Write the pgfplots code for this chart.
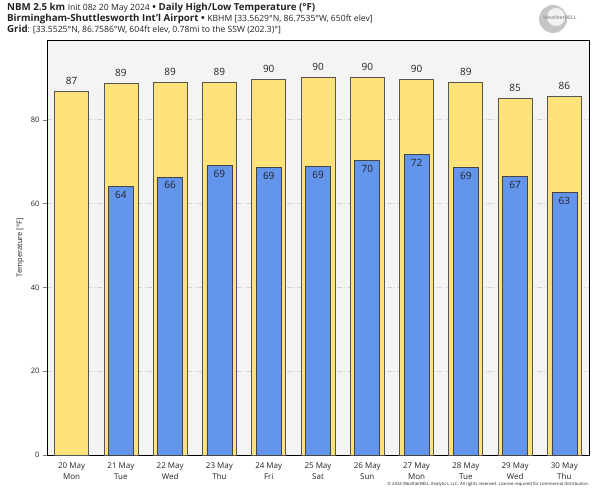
\documentclass[border=0pt]{standalone}
\usepackage{fontspec}
\setmainfont{Open Sans}
\usepackage{pgfplots}
\pgfplotsset{compat=1.18}
\usepackage{pgfplotstable}

\definecolor{hiyel}{HTML}{FFE27A}
\definecolor{loblu}{HTML}{6495ED}
\definecolor{plotbg}{HTML}{F4F4F4}
\definecolor{edge}{HTML}{555555}
\definecolor{txt}{HTML}{222222}

% daily highs, 20-30 May 2024
\pgfplotstableread{
x hi
0 86.7
1 88.6
2 89.0
3 89.0
4 89.6
5 90.2
6 90.2
7 89.6
8 88.9
9 85.1
10 85.6
}\highs

% daily lows, 21-30 May 2024
\pgfplotstableread{
x lo
1 64.0
2 66.3
3 69.0
4 68.6
5 68.8
6 70.2
7 71.7
8 68.6
9 66.5
10 62.6
}\lows

\newcommand{\hb}[1]{{\fontsize{9.7}{11}\selectfont\bfseries #1}}
\newcommand{\hr}[1]{{\fontsize{8.6}{10}\selectfont #1}}

\begin{document}
\begin{tikzpicture}
\useasboundingbox (0,0) rectangle (600pt,493pt);

% header
\node[anchor=west, inner sep=0, text=txt] at (7pt,485.5pt)
  {\hb{NBM 2.5 km} \hr{Init 08z 20 May 2024} \hb{• Daily High/Low Temperature (°F)}};
\node[anchor=west, inner sep=0, text=txt] at (7pt,474.5pt)
  {\hb{Birmingham-Shuttlesworth Int'l Airport •} \hr{KBHM [33.5629°N, 86.7535°W, 650ft elev]}};
\node[anchor=west, inner sep=0, text=txt] at (7pt,463.5pt)
  {\hb{Grid}\hr{: [33.5525°N, 86.7586°W, 604ft elev, 0.78mi to the SSW (202.3)°]}};

% logo
\fill[gray!45] (553pt,474pt) circle (14pt);
\fill[gray!10] (556pt,476pt) circle (9pt);
\node[font=\fontsize{5}{6}\selectfont\bfseries, text=gray!80] at (560pt,475pt) {WeatherBELL};

\begin{axis}[
    at={(47pt,38pt)}, anchor=south west,
    scale only axis,
    width=542pt, height=415pt,
    xmin=-0.5, xmax=10.5,
    ymin=0, ymax=99,
    axis background/.style={fill=plotbg},
    axis line style={black, line width=0.8pt},
    ytick={0,20,40,60,80},
    ytick pos=left,
    tick align=outside,
    major tick length=4pt,
    xtick={0,...,10},
    xticklabels={{20 May\\Mon},{21 May\\Tue},{22 May\\Wed},{23 May\\Thu},{24 May\\Fri},{25 May\\Sat},{26 May\\Sun},{27 May\\Mon},{28 May\\Tue},{29 May\\Wed},{30 May\\Thu}},
    xtick style={draw=none},
    xticklabel style={align=center, font=\fontsize{8}{11}\selectfont, text=txt},
    yticklabel style={font=\fontsize{7.5}{9}\selectfont, text=txt},
    /pgf/number format/assume math mode=true,
    ylabel={Temperature [°F]},
    ylabel style={font=\fontsize{7.5}{9}\selectfont, text=txt},
    ymajorgrids=true,
    major grid style={gray!35, dash pattern=on 5pt off 2pt on 1pt off 2pt, line width=0.5pt},
    nodes near coords={\pgfmathprintnumber[fixed,precision=0]{\pgfplotspointmeta}},
]
\addplot[ybar, bar width=34pt, bar shift=0pt, fill=hiyel, draw=edge, line width=0.7pt,
    every node near coord/.append style={font=\fontsize{10}{12}\selectfont, text=txt, anchor=south, yshift=3pt}]
    table[x=x, y=hi] {\highs};
\addplot[ybar, bar width=25pt, bar shift=0pt, fill=loblu, draw=edge!80!black, line width=0.7pt,
    every node near coord/.append style={font=\fontsize{10}{12}\selectfont, text=txt, anchor=north, yshift=-1pt}]
    table[x=x, y=lo] {\lows};
\end{axis}

% footer
\node[anchor=east, inner sep=0, font=\fontsize{4.3}{5}\selectfont, text=txt] at (589pt,9pt)
  {© 2024 WeatherBELL Analytics, LLC. All rights reserved. License required for commercial distribution.};
\end{tikzpicture}
\end{document}
